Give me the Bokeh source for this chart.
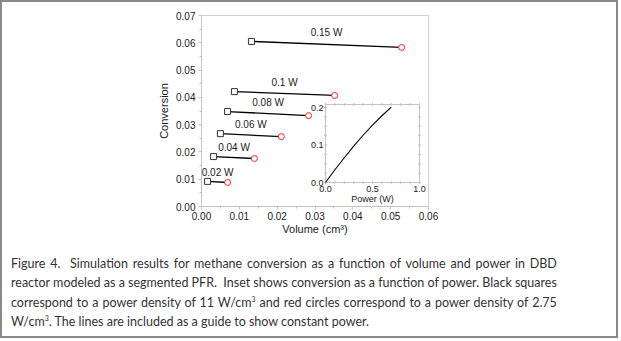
import math
from bokeh.plotting import figure
from bokeh.models import Range1d, FixedTicker, Div, NumeralTickFormatter
from bokeh.layouts import column
from bokeh.embed import file_html
from bokeh.resources import INLINE
from bokeh.core.properties import value

# ---------------- data ----------------
power_labels = ["0.15 W", "0.1 W", "0.08 W", "0.06 W", "0.04 W", "0.02 W"]
square_volume = [0.0132, 0.0087, 0.0069, 0.0050, 0.0032, 0.0016]
square_conversion = [0.0605, 0.0421, 0.0348, 0.0267, 0.0183, 0.0092]
circle_volume = [0.0529, 0.0352, 0.0283, 0.0211, 0.0140, 0.0069]
circle_conversion = [0.0583, 0.0407, 0.0333, 0.0256, 0.0176, 0.0088]

main_x_ticks = [0.0, 0.01, 0.02, 0.03, 0.04, 0.05, 0.06]
main_y_ticks = [0.0, 0.01, 0.02, 0.03, 0.04, 0.05, 0.06, 0.07]

inset_power = [0.0, 0.1, 0.2, 0.3, 0.4, 0.5, 0.6, 0.7]
inset_conversion = [0.0, 0.034, 0.066, 0.097, 0.126, 0.153, 0.178, 0.201]
inset_x_ticks = [0.0, 0.5, 1.0]
inset_x_labels = ["0.0", "0.5", "1.0"]
inset_y_ticks = [0.0, 0.1, 0.2]
inset_y_labels = ["0.0", "0.1", "0.2"]
inset_x_max = 1.0
inset_y_max = 0.208

caption_lines = [
    "Figure 4.&nbsp; Simulation results for methane conversion as a function of volume and power in DBD",
    "reactor modeled as a segmented PFR.&nbsp; Inset shows conversion as a function of power. Black squares",
    "correspond to a power density of 11 W/cm<sup>3</sup> and red circles correspond to a power density of 2.75",
    "W/cm<sup>3</sup>. The lines are included as a guide to show constant power.",
]

# ---------------- layout (page pixels) ----------------
FIG_W = 614
FRAME_L, FRAME_R, FRAME_T, FRAME_B = 201, 428, 15, 206
ORIGIN = 2  # figure top-left on page (inside the 2px border)
FIG_BOTTOM = 242
INSET_X0, INSET_X1 = 325, 419      # px of power 0 and 1.0
INSET_Y0, INSET_Y02 = 182, 107     # px of conversion 0 and 0.2

TICK_FONT = value("Liberation Sans")
GRAY = "#c4c4c4"

p = figure(
    frame_width=FRAME_R - FRAME_L,
    frame_height=FRAME_B - FRAME_T,
    min_border_left=FRAME_L - ORIGIN,
    min_border_right=FIG_W - (FRAME_R - ORIGIN),
    min_border_top=FRAME_T - ORIGIN,
    min_border_bottom=FIG_BOTTOM - FRAME_B,
    x_range=Range1d(0, 0.06),
    y_range=Range1d(0, 0.07),
    output_backend="svg",
    toolbar_location=None,
)
p.background_fill_color = "white"
p.border_fill_color = "white"
p.outline_line_color = "#d0d0d0"
p.grid.visible = False

minor_x = [i * 0.005 for i in range(13)]
minor_y = [i * 0.005 for i in range(15)]
p.xaxis.ticker = FixedTicker(ticks=main_x_ticks, minor_ticks=minor_x)
p.yaxis.ticker = FixedTicker(ticks=main_y_ticks, minor_ticks=minor_y)
p.xaxis.formatter = NumeralTickFormatter(format="0.00")
p.yaxis.formatter = NumeralTickFormatter(format="0.00")
for ax in (p.xaxis, p.yaxis):
    ax.axis_line_color = GRAY
    ax.major_tick_line_color = GRAY
    ax.minor_tick_line_color = GRAY
    ax.major_tick_in = 0
    ax.major_tick_out = 3
    ax.minor_tick_in = 0
    ax.minor_tick_out = 2
    ax.major_label_text_font = "Liberation Sans"
    ax.major_label_text_font_size = "10px"
    ax.major_label_text_color = "#1a1a1a"
    ax.axis_label_text_font = "Liberation Sans"
    ax.axis_label_text_font_size = "11px"
    ax.axis_label_text_font_style = "normal"
    ax.axis_label_text_color = "#1a1a1a"
p.xaxis.axis_label = "Volume (cm³)"
p.yaxis.axis_label = "Conversion"
p.xaxis.major_label_standoff = 2
p.yaxis.major_label_standoff = 3
p.xaxis.axis_label_standoff = 0
p.yaxis.axis_label_standoff = 3

# ---------------- main data ----------------
p.segment(x0=square_volume, y0=square_conversion, x1=circle_volume, y1=circle_conversion,
          line_color="black", line_width=1.3)
p.scatter(x=square_volume, y=square_conversion, marker="square", size=6,
          line_color="#333333", line_width=1, fill_color="white")
p.scatter(x=circle_volume, y=circle_conversion, marker="circle", size=6,
          line_color="#ff2020", line_width=1, fill_color="white")
mid_x = [(a + b) / 2 for a, b in zip(square_volume, circle_volume)]
p.text(x=mid_x, y=square_conversion, text=power_labels, text_font=TICK_FONT,
       text_font_size="10px", text_color="#1a1a1a", text_align="center",
       text_baseline="middle", y_offset=-9)

# ---------------- inset (via extra ranges) ----------------
ix_scale = (INSET_X1 - INSET_X0) / 1.0
iy_scale = (INSET_Y0 - INSET_Y02) / 0.2
p.extra_x_ranges = {"ix": Range1d(-(INSET_X0 - FRAME_L) / ix_scale, (FRAME_R - INSET_X0) / ix_scale)}
p.extra_y_ranges = {"iy": Range1d(-(FRAME_B - INSET_Y0) / iy_scale, (INSET_Y0 - FRAME_T) / iy_scale)}
I = dict(x_range_name="ix", y_range_name="iy")

p.quad(left=[0], right=[inset_x_max], bottom=[0], top=[inset_y_max],
       fill_color="white", line_color=GRAY, line_width=1, **I)
ix_minor = [i * 0.1 for i in range(11)]
iy_minor = [i * 0.025 for i in range(9)]
p.scatter(x=ix_minor, y=[0] * len(ix_minor), marker="dash", angle=math.pi / 2, size=3,
          line_color=GRAY, **I)
p.scatter(x=ix_minor, y=[inset_y_max] * len(ix_minor), marker="dash", angle=math.pi / 2, size=3,
          line_color=GRAY, **I)
p.scatter(x=[0] * len(iy_minor), y=iy_minor, marker="dash", size=3, line_color=GRAY, **I)
p.scatter(x=[inset_x_max] * len(iy_minor), y=iy_minor, marker="dash", size=3, line_color=GRAY, **I)

p.line(x=inset_power, y=inset_conversion, line_color="black", line_width=1.1, **I)
p.text(x=inset_x_ticks, y=[0] * 3, text=inset_x_labels, text_font=TICK_FONT,
       text_font_size="9px", text_color="#1a1a1a", text_align="center",
       text_baseline="top", y_offset=3, **I)
p.text(x=[0] * 3, y=inset_y_ticks, text=inset_y_labels, text_font=TICK_FONT,
       text_font_size="9px", text_color="#1a1a1a", text_align="right",
       text_baseline="middle", x_offset=-2, **I)
p.text(x=[0.5], y=[0], text=["Power (W)"], text_font=TICK_FONT,
       text_font_size="9px", text_color="#1a1a1a", text_align="center",
       text_baseline="middle", y_offset=16, **I)

# ---------------- caption ----------------
sup = '<sup style="font-size:7px; vertical-align:5px; line-height:0">3</sup>'
rows = []
for i, line in enumerate(caption_lines):
    line = line.replace("<sup>3</sup>", sup)
    align = "text-align:justify; text-align-last:justify;" if i < len(caption_lines) - 1 else "text-align:left;"
    rows.append(f'<div style="white-space:nowrap; {align}">{line}</div>')
html = ('<div style="font-family:Lato; font-size:12.5px; line-height:19.3px; color:#333333; '
        'padding:12px 14px 0 9px;">' + "".join(rows) + "</div>")
cap = Div(text=html, width=FIG_W, height=94, margin=0)

layout = column(p, cap, styles={"border": "2px solid #8a8a8a", "background": "white"})

open("out.html", "w").write(file_html(layout, INLINE))
